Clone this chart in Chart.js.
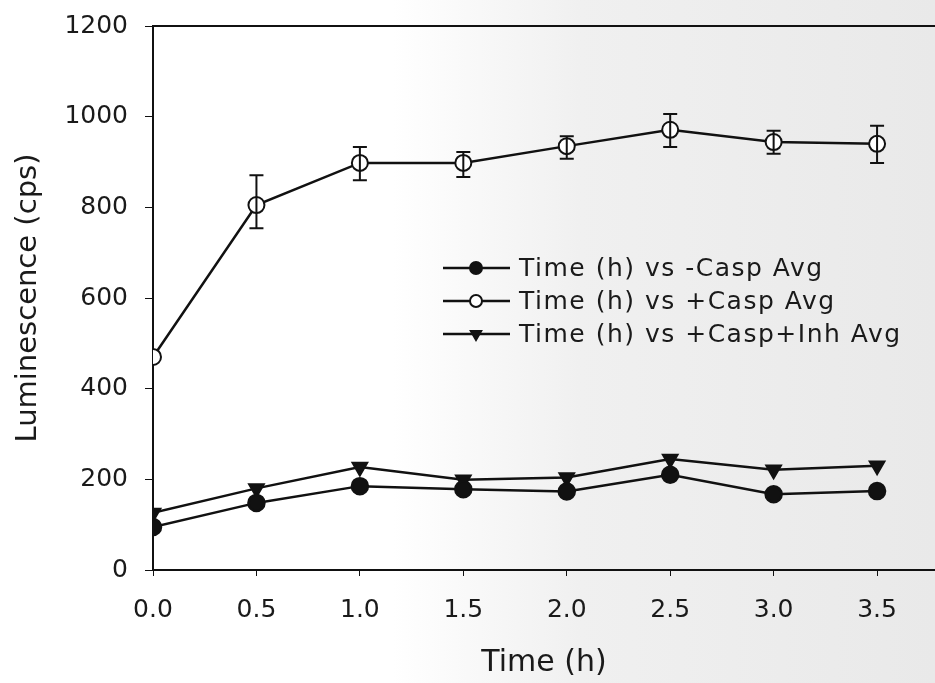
<!DOCTYPE html>
<html>
<head>
<meta charset="utf-8">
<script src="https://cdn.jsdelivr.net/npm/chart.js@4.4.0/dist/chart.umd.min.js"></script>
<style>
    html, body { margin: 0; padding: 0; }
    body {
        width: 935px; height: 683px; overflow: hidden;
        background: linear-gradient(90deg, #ffffff 0%, #ffffff 42%, #f0f0f0 62%, #e9e9e9 100%);
    }
    #wrap { position: relative; width: 935px; height: 683px; }
</style>
</head>
<body>
<div id="wrap"><canvas id="lum-chart" width="935" height="683"></canvas></div>
<script>
const times = [0.0, 0.5, 1.0, 1.5, 2.0, 2.5, 3.0, 3.5];
const xTicks = [0.0, 0.5, 1.0, 1.5, 2.0, 2.5, 3.0, 3.5];

// -Casp (filled circles)
const minusCasp = [95, 148, 185, 178, 173, 210, 167, 174];
// +Casp (open circles) with error bars
const plusCasp = [470, 805, 898, 898, 935, 971, 944, 940];
const plusCaspErrLow = [470, 754, 860, 867, 907, 933, 918, 898];
const plusCaspErrHigh = [470, 871, 933, 922, 957, 1006, 969, 980];
// +Casp+Inh (down triangles)
const plusCaspInh = [126, 180, 227, 199, 204, 245, 221, 230];

const labels = ['Time (h) vs -Casp Avg', 'Time (h) vs +Casp Avg', 'Time (h) vs +Casp+Inh Avg'];

const FONT = '"DejaVu Sans", Arial, sans-serif';

function toXY(ys) {
    return times.map((t, i) => ({ x: t, y: ys[i] }));
}

// error bars for the +Casp series
const errorBars = {
    id: 'errorBars',
    afterDatasetsDraw(chart) {
        const ctx = chart.ctx;
        const xs = chart.scales.x, ys = chart.scales.y;
        ctx.save();
        ctx.strokeStyle = '#111';
        ctx.lineWidth = 2;
        times.forEach((t, i) => {
            const lo = plusCaspErrLow[i], hi = plusCaspErrHigh[i];
            if (hi - lo < 1) return;
            const px = xs.getPixelForValue(t);
            const y1 = ys.getPixelForValue(hi), y2 = ys.getPixelForValue(lo);
            ctx.beginPath();
            ctx.moveTo(px, y1); ctx.lineTo(px, y2);
            ctx.moveTo(px - 7, y1); ctx.lineTo(px + 7, y1);
            ctx.moveTo(px - 7, y2); ctx.lineTo(px + 7, y2);
            ctx.stroke();
        });
        ctx.restore();
    }
};

// frame line along the top of the plot area
const topFrame = {
    id: 'topFrame',
    beforeDatasetsDraw(chart) {
        const a = chart.chartArea, ctx = chart.ctx;
        ctx.save();
        ctx.strokeStyle = '#111';
        ctx.lineWidth = 2;
        ctx.beginPath();
        ctx.moveTo(a.left, a.top);
        ctx.lineTo(a.right, a.top);
        ctx.stroke();
        ctx.restore();
    }
};

// legend drawn inside the plot area
const innerLegend = {
    id: 'innerLegend',
    afterDraw(chart) {
        const ctx = chart.ctx;
        ctx.save();
        ctx.font = '25px ' + FONT;
        ctx.letterSpacing = '1.5px';
        ctx.textBaseline = 'middle';
        chart.data.datasets.forEach((ds, i) => {
            const y = 268 + i * 33;
            ctx.strokeStyle = '#111';
            ctx.lineWidth = 2.5;
            ctx.beginPath();
            ctx.moveTo(443, y); ctx.lineTo(510, y);
            ctx.stroke();
            ctx.fillStyle = ds.pointBackgroundColor;
            ctx.strokeStyle = '#111';
            ctx.lineWidth = 2;
            Chart.helpers.drawPoint(ctx, {
                pointStyle: ds.pointStyle,
                rotation: ds.pointRotation || 0,
                radius: 6,
                borderWidth: 2
            }, 476, y);
            ctx.fillStyle = '#1a1a1a';
            ctx.fillText(ds.label, 519, y + 1);
        });
        ctx.restore();
    }
};

new Chart(document.getElementById('lum-chart'), {
    type: 'scatter',
    data: {
        datasets: [
            {
                label: labels[0],
                data: toXY(minusCasp),
                showLine: true,
                borderColor: '#111',
                borderWidth: 2.5,
                pointStyle: 'circle',
                pointRadius: 8,
                pointBackgroundColor: '#111',
                pointBorderColor: '#111'
            },
            {
                label: labels[1],
                data: toXY(plusCasp),
                showLine: true,
                borderColor: '#111',
                borderWidth: 2.5,
                pointStyle: 'circle',
                pointRadius: 8,
                pointBorderWidth: 2,
                pointBackgroundColor: '#ffffff',
                pointBorderColor: '#111'
            },
            {
                label: labels[2],
                data: toXY(plusCaspInh),
                showLine: true,
                borderColor: '#111',
                borderWidth: 2.5,
                pointStyle: 'triangle',
                pointRotation: 180,
                pointRadius: 8,
                pointBackgroundColor: '#111',
                pointBorderColor: '#111'
            }
        ]
    },
    options: {
        responsive: false,
        animation: false,
        layout: { autoPadding: false, padding: { left: 0, right: 0, top: 26, bottom: 0 } },
        plugins: {
            legend: { display: false },
            tooltip: { enabled: false }
        },
        scales: {
            x: {
                type: 'linear',
                min: 0,
                max: 3.78,
                afterBuildTicks: scale => { scale.ticks = xTicks.map(v => ({ value: v })); },
                afterFit: scale => { scale.height = 113; },
                ticks: {
                    color: '#1a1a1a',
                    font: { family: FONT, size: 25 },
                    padding: 19,
                    maxRotation: 0,
                    callback: v => Number(v).toFixed(1)
                },
                grid: { drawOnChartArea: false, drawTicks: true, tickLength: 6, color: '#111' },
                border: { color: '#111', width: 2 },
                title: {
                    display: true,
                    text: 'Time (h)',
                    color: '#1a1a1a',
                    font: { family: FONT, size: 30 },
                    padding: { top: 0, bottom: 2 }
                }
            },
            y: {
                min: 0,
                max: 1200,
                afterFit: scale => {
                    scale.width = 153;
                    scale.paddingTop = 0;
                    scale.paddingBottom = 0;
                },
                ticks: {
                    stepSize: 200,
                    color: '#1a1a1a',
                    font: { family: FONT, size: 25 },
                    padding: 17,
                    callback: v => String(v)
                },
                grid: { drawOnChartArea: false, drawTicks: true, tickLength: 8, color: '#111' },
                border: { color: '#111', width: 2 },
                title: {
                    display: true,
                    text: 'Luminescence (cps)',
                    color: '#1a1a1a',
                    font: { family: FONT, size: 29 },
                    padding: { top: 11, bottom: 0 }
                }
            }
        }
    },
    plugins: [topFrame, errorBars, innerLegend]
});
</script>
</body>
</html>
